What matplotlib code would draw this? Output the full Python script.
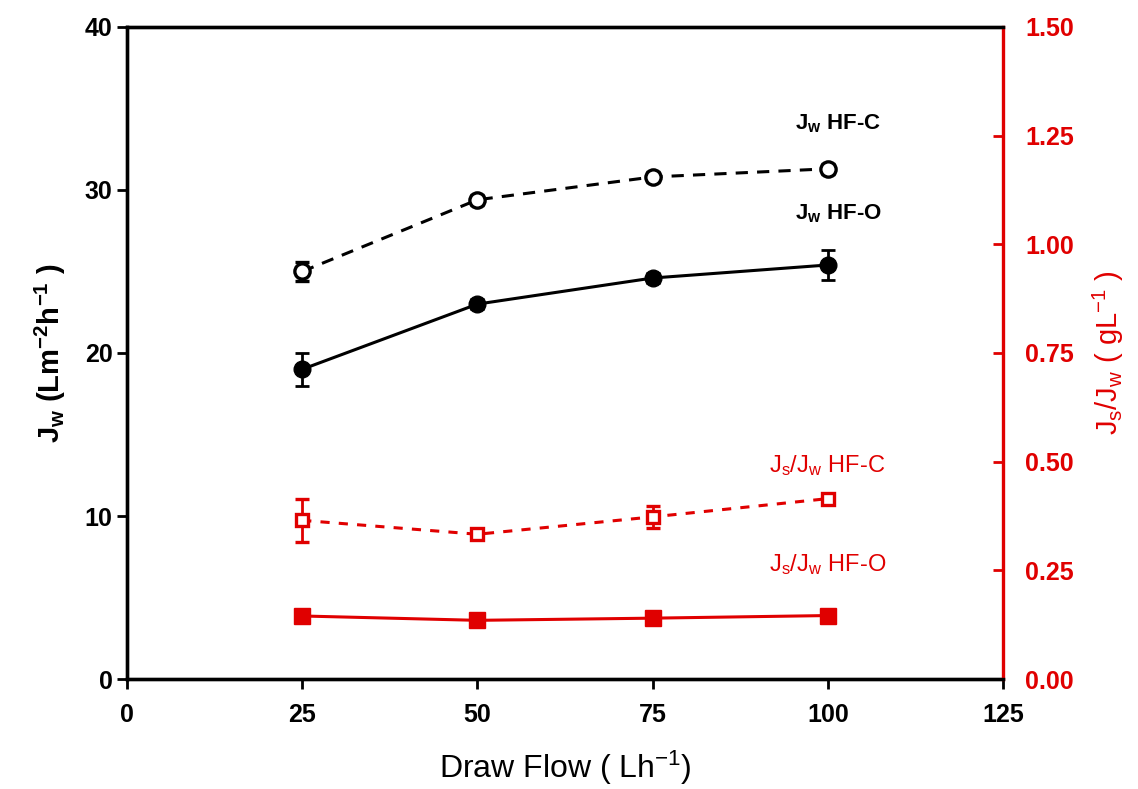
import numpy as np
import matplotlib
matplotlib.use("Agg")
from matplotlib import pyplot as plt

plt.rcParams['font.family'] = ['Liberation Sans', 'DejaVu Sans']
plt.rcParams['mathtext.default'] = 'regular'

red = '#e00000'

flow = [25, 50, 75, 100]

# water flux (left axis)
jw_hfc = [25.0, 29.4, 30.8, 31.3]
jw_hfc_err = [0.6, 0.3, 0.3, 0.3]
jw_hfo = [19.0, 23.0, 24.6, 25.4]
jw_hfo_err = [1.0, 0.3, 0.3, 0.9]

# specific reverse solute flux (right axis)
js_hfc = [0.365, 0.333, 0.373, 0.415]
js_hfc_err = [0.05, 0.01, 0.025, 0.01]
js_hfo = [0.145, 0.135, 0.140, 0.146]

fig = plt.figure(figsize=(11.38, 7.89), dpi=100)
ax1 = fig.add_axes([0.1116, 0.1394, 0.7698, 0.8264])
ax2 = ax1.twinx()

ax1.errorbar(flow, jw_hfc, yerr=jw_hfc_err, color='black', linestyle=(0, (4, 3)),
             linewidth=2.2, marker='o', markersize=11, markerfacecolor='white',
             markeredgewidth=2.4, capsize=5, elinewidth=2, capthick=2)
ax1.errorbar(flow, jw_hfo, yerr=jw_hfo_err, color='black', linestyle='-',
             linewidth=2.2, marker='o', markersize=12, markerfacecolor='black',
             capsize=5, elinewidth=2, capthick=2)

ax2.errorbar(flow, js_hfc, yerr=js_hfc_err, color=red, linestyle=(0, (3, 3)),
             linewidth=2.2, marker='s', markersize=9, markerfacecolor='white',
             markeredgewidth=2.4, capsize=5, elinewidth=2, capthick=2)
ax2.plot(flow, js_hfo, color=red, linestyle='-', linewidth=2.2,
         marker='s', markersize=11, markerfacecolor=red)

ax1.set_xlim(0, 125)
ax1.set_ylim(0, 40)
ax2.set_ylim(0, 1.5)
ax1.set_xticks([0, 25, 50, 75, 100, 125])
ax1.set_yticks([0, 10, 20, 30, 40])
ax2.set_yticks([0, 0.25, 0.5, 0.75, 1.0, 1.25, 1.5])
ax2.set_yticklabels(['0.00', '0.25', '0.50', '0.75', '1.00', '1.25', '1.50'])

for sp in ['left', 'bottom', 'top']:
    ax1.spines[sp].set_linewidth(2.4)
    ax2.spines[sp].set_linewidth(2.4)
ax2.spines['right'].set_linewidth(2.4)
ax2.spines['right'].set_color(red)
ax1.spines['right'].set_visible(False)

ax1.tick_params(axis='both', direction='out', length=7, width=2, labelsize=18)
ax1.tick_params(axis='x', pad=10)
ax2.tick_params(axis='y', direction='in', length=7, width=2, colors=red,
                labelsize=18, pad=16)
for lab in ax1.get_xticklabels() + ax1.get_yticklabels() + ax2.get_yticklabels():
    lab.set_fontweight('bold')

ax1.set_xlabel('Draw Flow ( Lh$^{-1}$)', fontsize=23, labelpad=16)
ax1.set_ylabel('J$_w$ (Lm$^{-2}$h$^{-1}$ )', fontsize=21, fontweight='bold', labelpad=12)
ax2.set_ylabel('J$_s$/J$_w$ ( gL$^{-1}$ )', fontsize=21, color=red, labelpad=12)

# series labels placed next to the end points
ax1.text(0.762, 0.852, 'J$_w$ HF-C', transform=ax1.transAxes, fontsize=16,
         fontweight='bold', ha='left', va='center')
ax1.text(0.762, 0.714, 'J$_w$ HF-O', transform=ax1.transAxes, fontsize=16,
         fontweight='bold', ha='left', va='center')
ax1.text(0.733, 0.327, 'J$_s$/J$_w$ HF-C', transform=ax1.transAxes, fontsize=17,
         color=red, ha='left', va='center')
ax1.text(0.733, 0.175, 'J$_s$/J$_w$ HF-O', transform=ax1.transAxes, fontsize=17,
         color=red, ha='left', va='center')

fig.savefig('out.png', dpi=100)
